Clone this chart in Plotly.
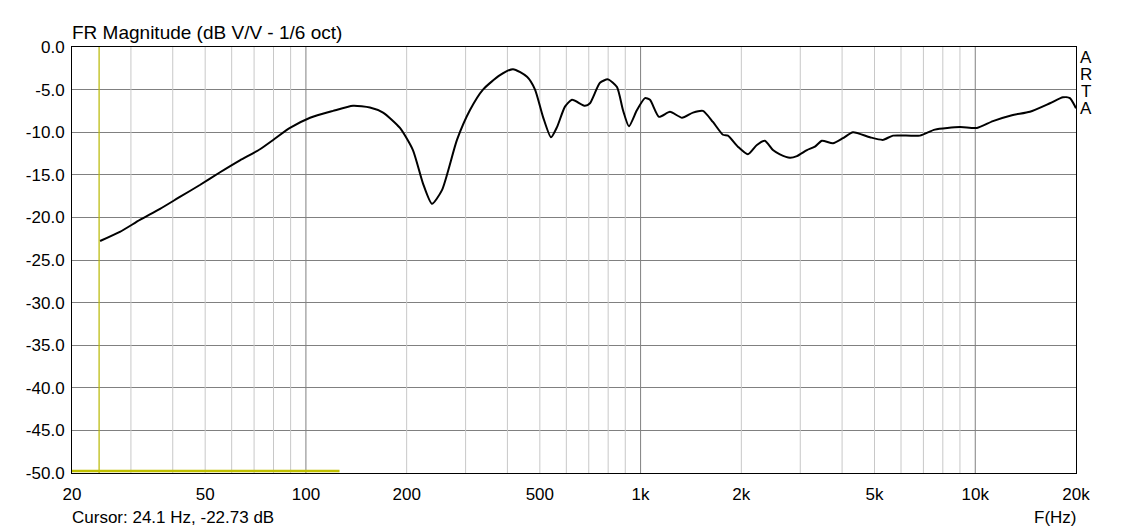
import plotly.graph_objects as go
import math

# ---- data ----
freq_hz = [24.26, 27.8, 31.9, 36.65, 42.0, 48.2, 55.4, 63.5, 72.9, 80.5, 89.6, 102.9, 120.5, 138.3,
           155.3, 170, 191, 208.8, 223.7, 238.0, 255.0, 282.7, 309.2, 338.1, 380.1, 415.7, 457.8,
           483.7, 511.0, 539.9, 562.7, 594.4, 623.7, 682.1, 706.0, 756.2, 799.0, 850.0, 885.8,
           923.2, 975.4, 1030.6, 1066.8, 1134.9, 1224, 1329.6, 1434, 1536, 1645, 1762, 1824, 1953,
           2092, 2226, 2352, 2486, 2608, 2795, 2932, 3141, 3319, 3482, 3757, 4025, 4312, 4845,
           5298, 5677, 6833, 7574, 9000, 10115, 11292, 12871, 14565, 16716, 18282, 19182, 20000]
mag_db = [-22.77, -21.7, -20.3, -19.0, -17.6, -16.2, -14.7, -13.3, -12.0, -10.8, -9.5, -8.3, -7.5, -6.9,
          -7.1, -7.7, -9.5, -12.1, -16.0, -18.4, -16.8, -10.9, -7.4, -5.0, -3.3, -2.6, -3.5,
          -5.0, -8.2, -10.6, -9.4, -7.0, -6.2, -6.9, -6.6, -4.2, -3.8, -4.7, -7.4,
          -9.3, -7.4, -6.0, -6.2, -8.2, -7.6, -8.3, -7.7, -7.5, -8.8, -10.3, -10.4, -11.7,
          -12.6, -11.5, -11.0, -12.1, -12.6, -13.0, -12.8, -12.1, -11.7, -11.0, -11.3, -10.7, -10.0, -10.6,
          -10.9, -10.4, -10.4, -9.7, -9.4, -9.5, -8.7, -8.0, -7.6, -6.6, -5.9, -6.0, -7.2]

x_tick_vals = [20, 50, 100, 200, 500, 1000, 2000, 5000, 10000, 20000]
x_tick_text = ["20", "50", "100", "200", "500", "1k", "2k", "5k", "10k", "20k"]
minor_grid = [30, 40, 50, 60, 70, 80, 90, 200, 300, 400, 500, 600, 700, 800, 900,
              2000, 3000, 4000, 5000, 6000, 7000, 8000, 9000]
major_grid = [100, 1000, 10000]
y_tick_vals = [0, -5, -10, -15, -20, -25, -30, -35, -40, -45, -50]
y_tick_text = ["0.0", "-5.0", "-10.0", "-15.0", "-20.0", "-25.0", "-30.0", "-35.0", "-40.0", "-45.0", "-50.0"]

cursor_hz = 24.1
cursor_db = -22.73
marker_bar_x = [20, 126]
marker_bar_y = [-49.77, -49.77]

FONT = "Liberation Sans, Arial, sans-serif"

fig = go.Figure()

def grid_trace(vals, color):
    xs, ys = [], []
    for v in vals:
        xs += [v, v, None]
        ys += [-50, 0, None]
    return go.Scatter(x=xs, y=ys, mode="lines", line=dict(color=color, width=1),
                      hoverinfo="skip", showlegend=False)

fig.add_trace(grid_trace(minor_grid, "#c8c8c8"))
fig.add_trace(grid_trace(major_grid, "#808080"))
# cursor
fig.add_trace(go.Scatter(x=[cursor_hz, cursor_hz], y=[-50, 0], mode="lines",
                         line=dict(color="#b8b800", width=1.2), showlegend=False, hoverinfo="skip"))
fig.add_trace(go.Scatter(x=marker_bar_x, y=marker_bar_y, mode="lines",
                         line=dict(color="#c0c000", width=2.5), showlegend=False, hoverinfo="skip"))
# response
fig.add_trace(go.Scatter(x=freq_hz, y=mag_db, mode="lines",
                         line=dict(color="black", width=2, shape="spline", smoothing=0.6),
                         showlegend=False))

fig.update_xaxes(type="log", range=[math.log10(20), math.log10(20000)],
                 tickvals=x_tick_vals, ticktext=x_tick_text, showgrid=False,
                 showline=True, linecolor="black", linewidth=1, mirror=True,
                 ticks="", ticklabelstandoff=6, zeroline=False,
                 tickfont=dict(family=FONT, size=17, color="black"))
fig.update_yaxes(range=[-50, 0], tickvals=y_tick_vals, ticktext=y_tick_text,
                 showgrid=True, gridcolor="#808080", gridwidth=1,
                 showline=True, linecolor="black", linewidth=1, mirror=True,
                 ticks="", ticklabelstandoff=3, zeroline=False,
                 tickfont=dict(family=FONT, size=17, color="black"))

annotations = [
    dict(text="FR Magnitude (dB V/V - 1/6 oct)", xref="paper", yref="paper", x=0, y=1,
         xanchor="left", yanchor="bottom", yshift=2, xshift=-2, showarrow=False,
         font=dict(family=FONT, size=19, color="black")),
    dict(text="Cursor: 24.1 Hz, -22.73 dB", xref="paper", yref="paper", x=0, y=0,
         xanchor="left", yanchor="middle", yshift=-44, xshift=-2, showarrow=False,
         font=dict(family=FONT, size=17, color="black")),
    dict(text="F(Hz)", xref="paper", yref="paper", x=1, y=0,
         xanchor="right", yanchor="middle", yshift=-44, xshift=2, showarrow=False,
         font=dict(family=FONT, size=17, color="black")),
]
for i, ch in enumerate("ARTA"):
    annotations.append(dict(text=ch, xref="paper", yref="paper", x=1, y=1,
                            xanchor="center", yanchor="middle", xshift=10, yshift=-10 - 17 * i,
                            showarrow=False, font=dict(family=FONT, size=17, color="black")))

# the page body adds an 8px offset at top-left, so the figure is 8px smaller
fig.update_layout(width=1140, height=523, margin=dict(l=64, r=72, t=39, b=58),
                  paper_bgcolor="white", plot_bgcolor="white", annotations=annotations,
                  showlegend=False)

fig.write_html("out.html")
